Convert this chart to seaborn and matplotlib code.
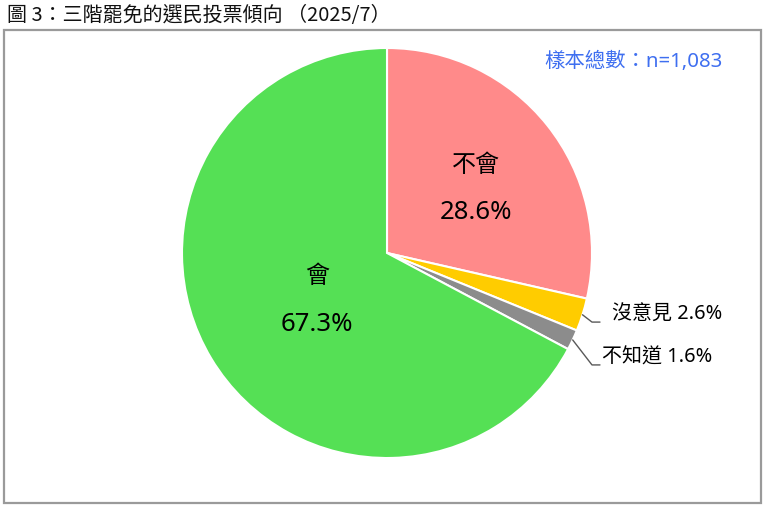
import matplotlib
matplotlib.use('Agg')
import matplotlib.pyplot as plt
import matplotlib.patches as mpatches
import seaborn as sns
import numpy as np

sns.set_style('white')
plt.rcParams['font.family'] = ['Noto Sans', 'Noto Sans CJK TC', 'DejaVu Sans']
plt.rcParams['text.color'] = 'black'

# Datos del grafico
categorias = ['不會', '沒意見', '不知道', '會']
porcentajes = [28.6, 2.6, 1.6, 67.3]
colores = ['#FF8A8A', '#FFCC00', '#8C8C8C', '#55E055']
titulo = '圖 3：三階罷免的選民投票傾向 （2025/7）'
muestra = '樣本總數：n=1,083'

W, H = 765, 507
fig = plt.figure(figsize=(W / 100, H / 100), dpi=100)

# Marco gris
fig.patches.append(mpatches.Rectangle((4 / W, 1 - 503 / H), (761 - 4) / W, (503 - 30) / H,
                                      transform=fig.transFigure, fill=False,
                                      edgecolor='#9A9A9A', linewidth=1.6))
fig.text(7 / W, 1 - 16 / H, titulo, fontsize=14.4, va='center', ha='left', color='#111111',
         family=['Noto Sans CJK TC', 'DejaVu Sans'])

cx, cy, r = 387, 253, 205
ax = fig.add_axes([(cx - r) / W, (H - cy - r) / H, 2 * r / W, 2 * r / H])
wedges, _ = ax.pie(porcentajes, colors=colores, startangle=90, counterclock=False,
                   wedgeprops=dict(edgecolor='white', linewidth=1.5))
ax.set_xlim(-1, 1)
ax.set_ylim(-1, 1)
ax.set_aspect('equal')
ax.axis('off')

# Etiquetas internas
ax.text(0.434, 0.424, categorias[0], ha='center', va='center', fontsize=17.3)
ax.text(0.434, 0.198, f'{porcentajes[0]}%', ha='center', va='center', fontsize=18.5)
ax.text(-0.341, -0.117, categorias[3], ha='center', va='center', fontsize=17.3)
ax.text(-0.341, -0.351, f'{porcentajes[3]}%', ha='center', va='center', fontsize=18.5)

# Etiquetas externas con lineas guia
externas = [(1, -0.337, 1.098, -0.302), (2, -0.546, 1.049, -0.512)]
for i, ly, tx, ty in externas:
    w = wedges[i]
    ang = np.deg2rad((w.theta1 + w.theta2) / 2)
    x0, y0 = np.cos(ang), np.sin(ang)
    ax.plot([x0, 1.0, 1.039], [y0, ly, ly], color='#595959', lw=1, clip_on=False)
    ax.text(tx, ty, f'{categorias[i]} {porcentajes[i]}%', ha='left', va='center', fontsize=14.4)

fig.text(723 / W, 1 - 62 / H, muestra, ha='right', va='center', fontsize=14.7, color='#3F6FF0')

plt.savefig('out.png', dpi=100)
